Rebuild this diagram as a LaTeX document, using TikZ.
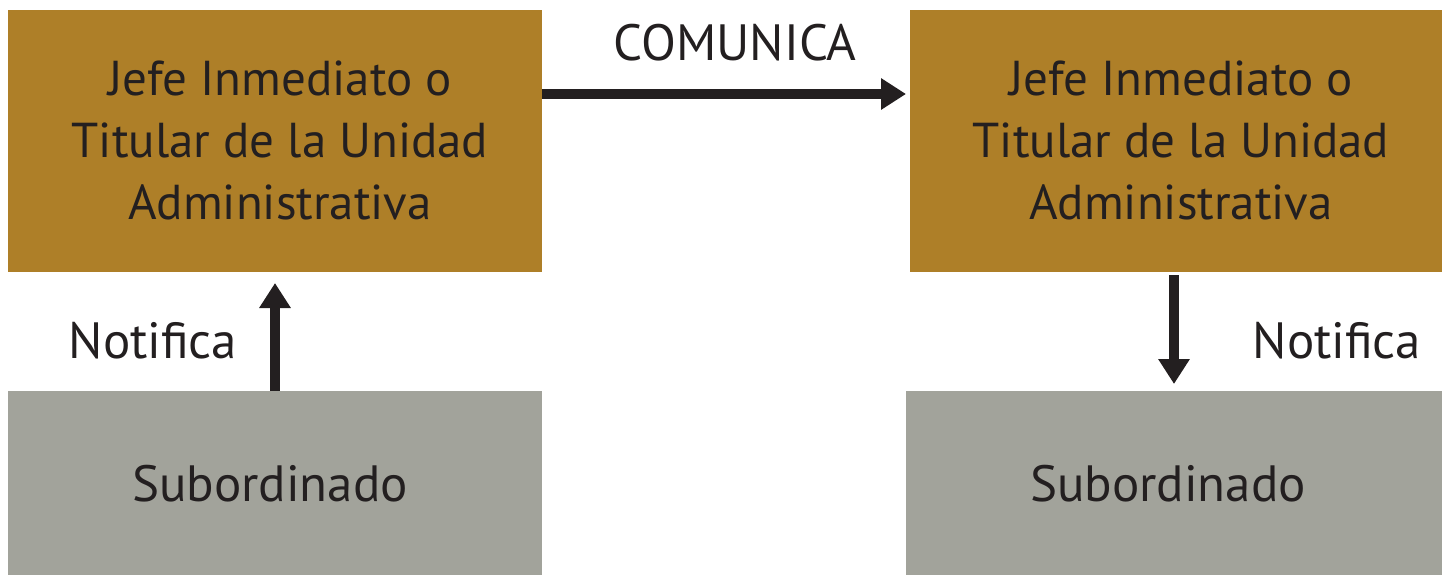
\documentclass[tikz,border=0pt]{standalone}
\usepackage{fontspec}
\setmainfont{PT Sans}
\usetikzlibrary{arrows.meta}
\definecolor{gold}{HTML}{AE7F28}
\definecolor{grayb}{HTML}{A2A39B}
\definecolor{ink}{HTML}{231F20}
\begin{document}
\begin{tikzpicture}[x=1pt,y=-1pt,
  boxtext/.style={font=\fontsize{49}{62}\selectfont, text=ink, align=center, inner sep=0pt},
  lbl/.style={font=\fontsize{51}{62}\selectfont, text=ink, inner sep=0pt, anchor=base},
  arr/.style={draw=ink, line width=10pt, -{Triangle[length=25pt,width=30pt]}}]
\useasboundingbox (0,0) rectangle (1447,575);
\fill[gold] (8,10) rectangle (542,272);
\fill[gold] (910,10) rectangle (1442,272);
\fill[grayb] (8,391) rectangle (542,575);
\fill[grayb] (906,391) rectangle (1442,575);
\node[boxtext] (tl) at (280,140) {Jefe Inmediato o\\Titular de la Unidad\\Administrativa};
\node[boxtext] (tr) at (1181,140) {Jefe Inmediato o\\Titular de la Unidad\\Administrativa};
\node[lbl] (bl) at (270,501) {Subordinado};
\node[lbl] (br) at (1168,501) {Subordinado};
\coordinate (a1s) at (542,94);
\coordinate (a1e) at (906,94);
\coordinate (a2s) at (275,391);
\coordinate (a2e) at (275,283);
\coordinate (a3s) at (1174,275);
\coordinate (a3e) at (1174,384);
\draw[arr] (a1s) -- (a1e);
\draw[arr] (a2s) -- (a2e);
\draw[arr] (a3s) -- (a3e);
\node[lbl] (com) at (735,61) {COMUNICA};
\node[lbl] (n1) at (153,358) {Notifica};
\node[lbl] (n2) at (1337,358) {Notifica};
\end{tikzpicture}
\end{document}
